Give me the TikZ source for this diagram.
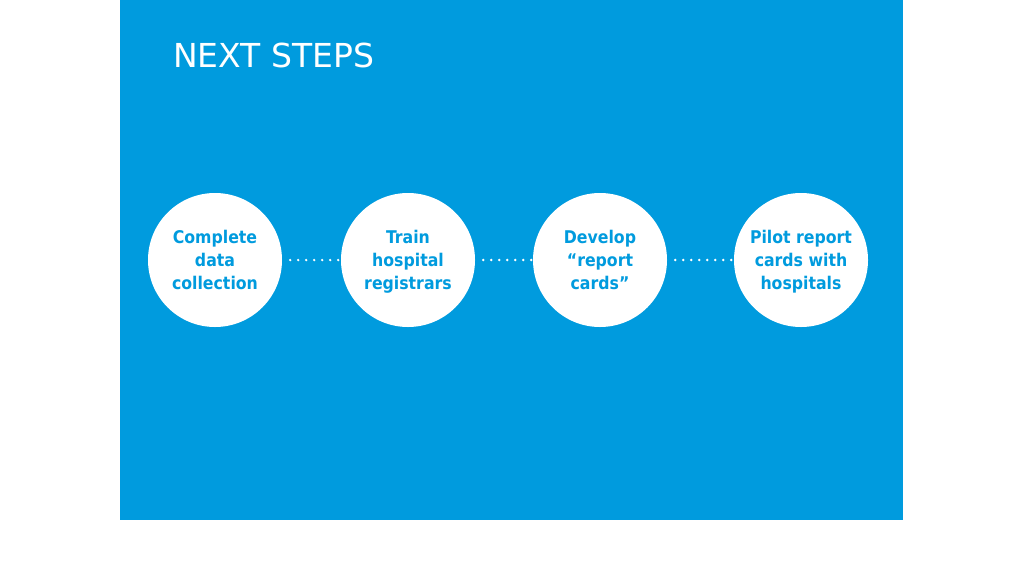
\documentclass[tikz,border=0pt]{standalone}
\usepackage{fontspec}
\setmainfont{DejaVu Sans}
\newfontfamily\condfont{DejaVu Sans Condensed}
\definecolor{bgblue}{RGB}{0,155,222}
\newcommand{\ls}{\vphantom{Cg}}
\newcommand{\lsfirst}{\raisebox{4pt}{\vphantom{C}}\vphantom{Cg}}
\begin{document}
\begin{tikzpicture}[x=1pt,y=-1pt,
  stepcircle/.style={circle,fill=white,minimum size=134pt,inner sep=0pt,
    text=bgblue,align=center,font=\condfont\bfseries\fontsize{17.5}{23}\selectfont},
  dotline/.style={white,line width=2.6pt,line cap=round,dash pattern=on 0pt off 8pt}]
\useasboundingbox (0,0) rectangle (1024,576);
\fill[white] (0,0) rectangle (1024,576);
\fill[bgblue] (120,0) rectangle (903,520);
\node[anchor=west,text=white,font=\fontsize{33}{36}\selectfont,inner sep=0pt] (title) at (173,55) {NEXT STEPS};
\node[stepcircle] (c1) at (215,260) {\lsfirst Complete\\\ls data\\\ls collection};
\node[stepcircle] (c2) at (408,260) {\lsfirst Train\\\ls hospital\\\ls registrars};
\node[stepcircle] (c3) at (600,260) {\lsfirst Develop\\\ls “report\\\ls cards”};
\node[stepcircle] (c4) at (801,260) {\lsfirst Pilot report\\\ls cards with\\\ls hospitals};
\draw[dotline] ([xshift=8pt]c1.east) -- ([xshift=-1pt]c2.west);
\draw[dotline] ([xshift=8pt]c2.east) -- ([xshift=-1pt]c3.west);
\draw[dotline] ([xshift=8pt]c3.east) -- ([xshift=-1pt]c4.west);
\end{tikzpicture}
\end{document}
